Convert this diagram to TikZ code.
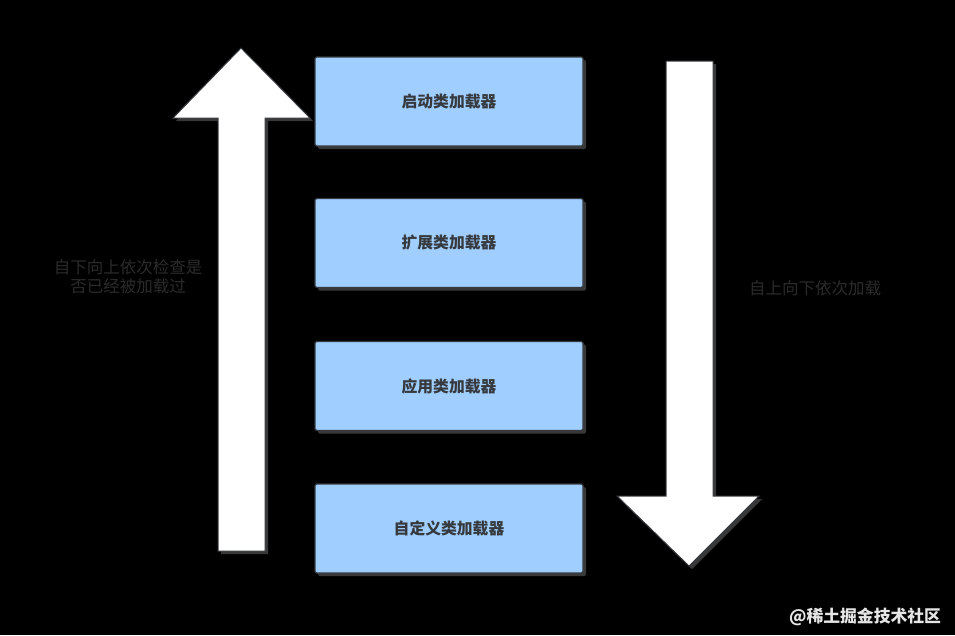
\documentclass[tikz,border=0pt]{standalone}
\usepackage{fontspec}
\setmainfont{Noto Sans CJK SC}
\usetikzlibrary{shadows}

\definecolor{boxblue}{HTML}{9FCEFF}
\definecolor{boxline}{HTML}{36393D}
\definecolor{dimtext}{HTML}{2B2B2B}

\tikzset{
  loader/.style={draw=boxline, line width=1.3pt, fill=boxblue, rounded corners=1.5pt,
    minimum width=268pt, minimum height=89pt, inner sep=0pt,
    font=\fontsize{15.8}{18}\selectfont\bfseries, text=boxline,
    drop shadow={shadow xshift=3pt, shadow yshift=-3pt, fill=black!78, opacity=1}},
  bigarrow/.style={draw=boxline, line width=1pt, fill=white, line join=miter,
    drop shadow={shadow xshift=3pt, shadow yshift=-3pt, fill=black!78, opacity=1}},
  note/.style={font=\fontsize{16.5}{19}\selectfont, text=dimtext, align=center}
}

\begin{document}
\begin{tikzpicture}[x=1pt, y=-1pt]
% background and page size
\fill[black] (0,0) rectangle (955,635);
\useasboundingbox (0,0) rectangle (955,635);

% arrows
\draw[bigarrow] (218,551) -- (218,118) -- (173,118) -- (241,48) -- (310,118) -- (265,118) -- (265,551) -- cycle;
\draw[bigarrow] (666,61) -- (713,61) -- (713,496) -- (759,496) -- (689,566) -- (617,496) -- (666,496) -- cycle;

% class loaders
\node[loader] (boot) at (449,101.5) {启动类加载器};
\node[loader] (ext) at (449,243) {扩展类加载器};
\node[loader] (app) at (449,386) {应用类加载器};
\node[loader] (custom) at (449,528.5) {自定义类加载器};

% notes
\node[note] (checkup) at (128,277) {自下向上依次检查是\\否已经被加载过};
\node[note] (loaddown) at (815,288) {自上向下依次加载};

% watermark
\node[font=\fontsize{16.8}{19}\selectfont\bfseries, text=black!10] (mark) at (865,617) {@稀土掘金技术社区};
\end{tikzpicture}
\end{document}
